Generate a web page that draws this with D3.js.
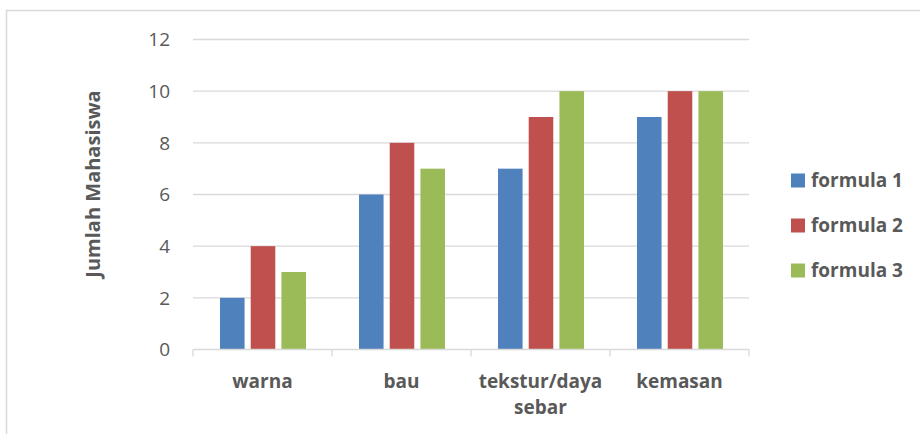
<!DOCTYPE html>
<html lang="id">
  <head>
    <meta charset="UTF-8" />
    <script src="https://d3js.org/d3.v7.min.js"></script>
    <title>Jumlah Mahasiswa</title>
    <style>
      body { margin: 0; background: #fff; }
      svg text { font-family: "Open Sans", sans-serif; fill: #595959; }
    </style>
  </head>
  <body>
    <svg width="920" height="434"></svg>
    <script>
      // data
      var categories = [["warna"], ["bau"], ["tekstur/daya", "sebar"], ["kemasan"]];
      var seriesNames = ["formula 1", "formula 2", "formula 3"];
      var formula1 = [2, 6, 7, 9];
      var formula2 = [4, 8, 9, 10];
      var formula3 = [3, 7, 10, 10];
      var yTicks = [0, 2, 4, 6, 8, 10, 12];
      var colors = ["#4F81BD", "#C0504D", "#9BBB59"];

      var values = [formula1, formula2, formula3];
      var catKeys = categories.map(function (c) { return c.join(" "); });

      var svg = d3.select("svg");

      // chart border (runs off the right and bottom edges)
      svg.append("path")
        .attr("d", "M6.5,440V10.5H930")
        .attr("fill", "none")
        .attr("stroke", "#d9d9d9")
        .attr("stroke-width", 1.5);

      var plot = { left: 193, right: 749, top: 39.5, bottom: 349.5 };

      var x0 = d3.scaleBand().domain(catKeys).range([plot.left, plot.right]).padding(0);
      var x1 = d3.scaleBand()
        .domain(seriesNames)
        .range([27, x0.bandwidth() - 26])
        .paddingInner(0.2);
      var y = d3.scaleLinear().domain([0, 12]).range([plot.bottom, plot.top]);

      // gridlines
      svg.append("g")
        .selectAll("line")
        .data(yTicks.filter(function (t) { return t > 0; }))
        .enter()
        .append("line")
        .attr("x1", plot.left)
        .attr("x2", plot.right)
        .attr("y1", function (d) { return y(d); })
        .attr("y2", function (d) { return y(d); })
        .attr("stroke", "#d9d9d9")
        .attr("stroke-width", 1.3);

      // y labels
      svg.append("g")
        .selectAll("text")
        .data(yTicks)
        .enter()
        .append("text")
        .attr("x", 170)
        .attr("y", function (d) { return y(d); })
        .attr("dy", "0.36em")
        .attr("text-anchor", "end")
        .attr("font-size", 19)
        .text(function (d) { return d; });

      // bars
      svg.append("g")
        .selectAll("g")
        .data(catKeys)
        .enter()
        .append("g")
        .attr("transform", function (d) { return "translate(" + x0(d) + ",0)"; })
        .selectAll("rect")
        .data(function (d, i) {
          return seriesNames.map(function (s, j) {
            return { key: s, value: values[j][i], color: colors[j] };
          });
        })
        .enter()
        .append("rect")
        .attr("x", function (d) { return x1(d.key); })
        .attr("y", function (d) { return y(d.value); })
        .attr("width", x1.bandwidth())
        .attr("height", function (d) { return y(0) - y(d.value); })
        .attr("fill", function (d) { return d.color; });

      // x axis
      var xAxis = svg.append("g");
      xAxis.append("line")
        .attr("x1", plot.left).attr("x2", plot.right)
        .attr("y1", plot.bottom).attr("y2", plot.bottom)
        .attr("stroke", "#d9d9d9").attr("stroke-width", 1.3);
      xAxis.selectAll(".tick")
        .data(catKeys.concat(["end"]))
        .enter()
        .append("line")
        .attr("x1", function (d) { return d === "end" ? plot.right : x0(d); })
        .attr("x2", function (d) { return d === "end" ? plot.right : x0(d); })
        .attr("y1", plot.bottom)
        .attr("y2", plot.bottom + 7)
        .attr("stroke", "#d9d9d9").attr("stroke-width", 1.3);

      xAxis.selectAll("text")
        .data(categories)
        .enter()
        .append("text")
        .attr("x", function (d, i) { return x0(catKeys[i]) + x0.bandwidth() / 2; })
        .attr("y", 388)
        .attr("text-anchor", "middle")
        .attr("font-size", 19)
        .attr("font-weight", "bold")
        .selectAll("tspan")
        .data(function (d) { return d; })
        .enter()
        .append("tspan")
        .attr("x", function () { return this.parentNode.getAttribute("x"); })
        .attr("dy", function (d, i) { return i === 0 ? 0 : 26; })
        .text(function (d) { return d; });

      // y axis title
      svg.append("text")
        .attr("transform", "translate(100,184) rotate(-90)")
        .attr("text-anchor", "middle")
        .attr("font-size", 20)
        .attr("font-weight", "bold")
        .text("Jumlah Mahasiswa");

      // legend
      var legend = svg.append("g")
        .selectAll("g")
        .data(seriesNames)
        .enter()
        .append("g")
        .attr("transform", function (d, i) { return "translate(791," + (180.5 + i * 45) + ")"; });

      legend.append("rect")
        .attr("y", -7)
        .attr("width", 14)
        .attr("height", 14)
        .attr("fill", function (d, i) { return colors[i]; });

      legend.append("text")
        .attr("x", 20)
        .attr("dy", "0.36em")
        .attr("font-size", 19)
        .attr("font-weight", "bold")
        .text(function (d) { return d; });
    </script>
  </body>
</html>
